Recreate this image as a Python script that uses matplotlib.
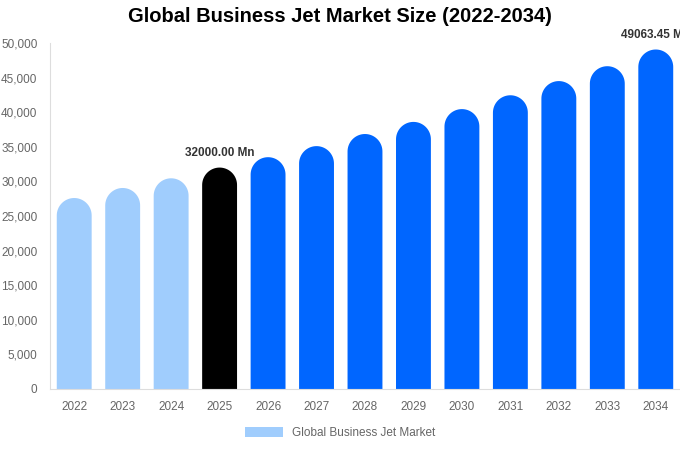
import numpy as np
import matplotlib.pyplot as plt
from matplotlib.patches import Polygon, Patch

plt.rcParams['font.family'] = ['Liberation Sans', 'DejaVu Sans']

years = ['2022', '2023', '2024', '2025', '2026', '2027', '2028',
         '2029', '2030', '2031', '2032', '2033', '2034']
market = [27600, 29050, 30450, 32000, 33500, 35100, 36850,
          38600, 40450, 42450, 44500, 46650, 49063.45]
colors = ['#a0cdfd'] * 3 + ['#000000'] + ['#0066ff'] * 9
labelled = {3: '32000.00 Mn', 12: '49063.45 Mn'}

fig = plt.figure(figsize=(6.8, 4.5), dpi=100)
ax = fig.add_axes([0.0735, 0.1356, 0.9265, 0.7688])

x = list(range(len(years)))
width = 0.72
ax.set_xlim(-0.5, len(years) - 0.5)
ax.set_ylim(0, 50000)

# rounded caps: radius of half a bar width, converted to data units
px_per_x = ax.get_position().width * 680 / len(years)
px_per_y = ax.get_position().height * 450 / 50000
cap_h = (width * px_per_x / 2) / px_per_y
theta = np.linspace(0, np.pi, 40)

for i, v in enumerate(market):
    arc_x = i + width / 2 * np.cos(theta)
    arc_y = v - cap_h + cap_h * np.sin(theta)
    xs = np.concatenate([[i + width / 2], arc_x, [i - width / 2]])
    ys = np.concatenate([[0], arc_y, [0]])
    ax.add_patch(Polygon(np.column_stack([xs, ys]), closed=True,
                         facecolor=colors[i], edgecolor='none'))

for i, txt in labelled.items():
    ax.annotate(txt, (i, market[i]), xytext=(0, 6), textcoords='offset points',
                ha='center', va='bottom', fontsize=8.5, fontweight='bold',
                color='#333333', annotation_clip=False)

ax.set_xticks(x)
ax.set_xticklabels(years)
ax.set_yticks(range(0, 50001, 5000))
ax.set_yticklabels([f'{t:,}' for t in range(0, 50001, 5000)])
ax.tick_params(axis='both', length=0, labelsize=8.5, labelcolor='#666666')
ax.tick_params(axis='y', pad=9)
ax.tick_params(axis='x', pad=9)

for side in ['top', 'right']:
    ax.spines[side].set_visible(False)
for side in ['left', 'bottom']:
    ax.spines[side].set_color('#dddddd')

fig.suptitle('Global Business Jet Market Size (2022-2034)', x=0.5, y=0.985,
             fontsize=14.5, fontweight='bold')

fig.legend(handles=[Patch(facecolor='#a0cdfd', label='Global Business Jet Market')],
           loc='center', bbox_to_anchor=(0.5, 0.037), frameon=False,
           fontsize=8.5, labelcolor='#666666', handlelength=3.2, handleheight=0.9)

fig.savefig('out.png', dpi=100)
